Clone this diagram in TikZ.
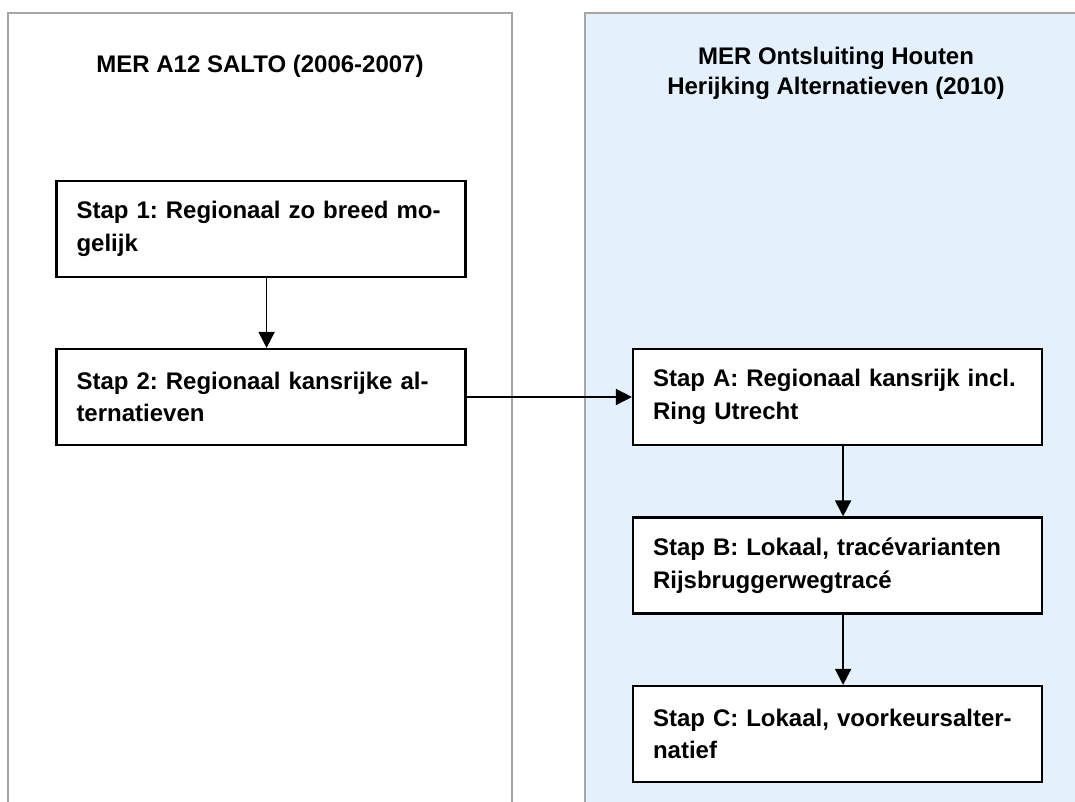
\documentclass[tikz,border=0pt]{standalone}
\usepackage{fontspec}
\setmainfont{Liberation Sans}
\usetikzlibrary{arrows.meta}
\definecolor{panelgray}{HTML}{A6A6A6}
\definecolor{panelblue}{HTML}{E4F1FC}
\begin{document}
\frenchspacing
\begin{tikzpicture}[x=0.75pt,y=-0.75pt,
  panel/.style={draw=panelgray,line width=1.5pt},
  stepbox/.style={draw=black,line width=1.6pt,fill=white,minimum width=306.75pt,minimum height=72pt,text width=276.75pt,inner xsep=15pt,inner ysep=0pt,align=left,font=\bfseries\frenchspacing\fontsize{18}{24.5}\selectfont},
  title/.style={font=\bfseries\frenchspacing\fontsize{18}{22.75}\selectfont,align=center,inner sep=0pt},
  flow/.style={line width=1.2pt,-{Triangle[length=12pt,width=12pt]}}]
\useasboundingbox (0,0) rectangle (1075,801);
\clip (0,0) rectangle (1075,801);
\draw[panel] (8,850) -- (8,13) -- (512,13) -- (512,850);
\draw[panel,fill=panelblue] (585,850) -- (585,13) -- (1100,13) -- (1100,850);
\node[title,anchor=base] (t1) at (260,72) {MER A12 SALTO (2006-2007)};
\node[title,anchor=north] (t2) at (836,47) {MER Ontsluiting Houten\\Herijking Alternatieven (2010)};
\node[stepbox] (s1) at (261,229) {Stap 1: Regionaal zo breed mo-\\gelijk};
\node[stepbox] (s2) at (261,397) {Stap 2: Regionaal kansrijke al-\\ternatieven};
\node[stepbox] (sA) at (837.5,397) {Stap A: Regionaal kansrijk incl.\\Ring Utrecht};
\node[stepbox] (sB) at (837.5,565.5) {Stap B: Lokaal, tracévarianten\\Rijsbruggerwegtracé};
\node[stepbox] (sC) at (837.5,734) {Stap C: Lokaal, voorkeursalter-\\natief};
\draw[flow] ([xshift=4.2pt]s1.south) -- ([xshift=4.2pt]s2.north);
\draw[flow] (s2.east) -- (sA.west);
\draw[flow] ([xshift=4.2pt]sA.south) -- ([xshift=4.2pt]sB.north);
\draw[flow] ([xshift=4.2pt]sB.south) -- ([xshift=4.2pt]sC.north);
\end{tikzpicture}
\end{document}
